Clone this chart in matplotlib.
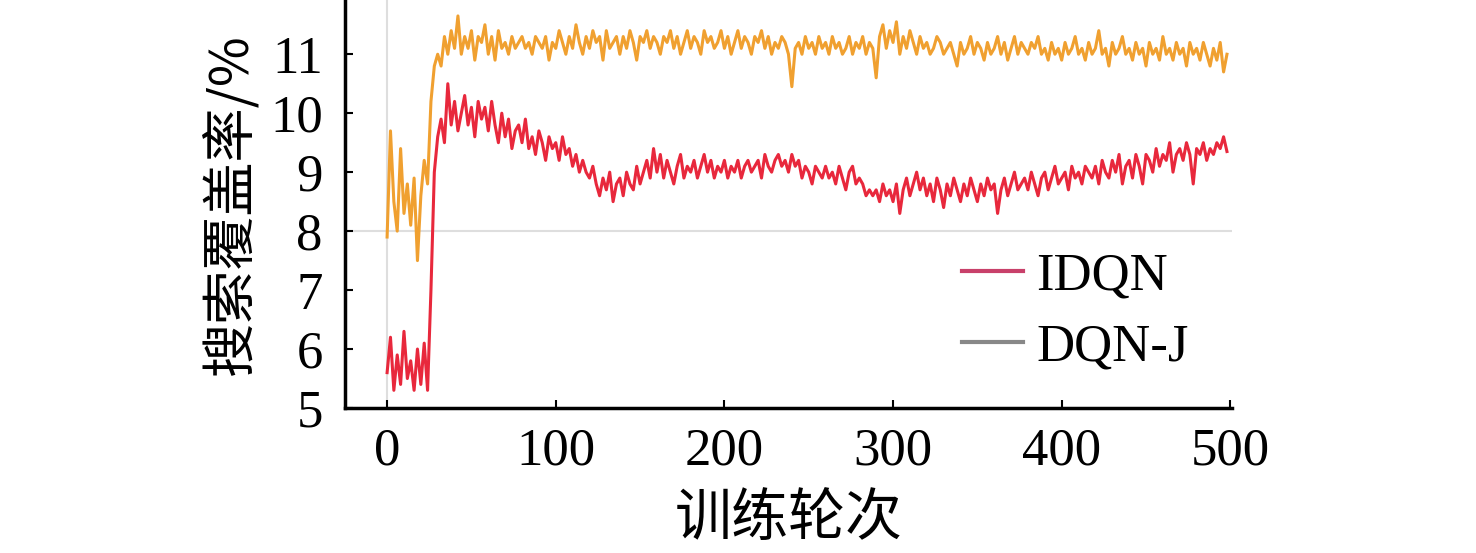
import numpy as np
from matplotlib import pyplot as plt
from matplotlib.lines import Line2D

# training episode (every 2nd episode)
episodes = np.arange(0, 500, 2)

idqn = [
    5.6, 6.2, 5.3, 5.9, 5.4, 6.3, 5.5, 5.8, 5.3, 6.0,
    5.4, 6.1, 5.3, 7.0, 9.0, 9.6, 9.9, 9.5, 10.5, 9.8,
    10.2, 9.7, 10.0, 10.3, 9.8, 10.1, 9.6, 10.2, 9.9, 10.1,
    9.7, 10.2, 9.8, 9.5, 10.0, 9.6, 9.9, 9.4, 9.7, 9.8,
    9.5, 9.9, 9.4, 9.6, 9.3, 9.7, 9.5, 9.2, 9.6, 9.4,
    9.5, 9.2, 9.6, 9.3, 9.4, 9.1, 9.3, 9.0, 9.2, 9.0,
    8.9, 9.1, 8.8, 8.6, 8.9, 8.7, 9.0, 8.5, 8.8, 8.9,
    8.6, 9.0, 8.8, 8.7, 9.1, 8.8, 9.0, 9.2, 8.9, 9.4,
    9.0, 9.3, 8.9, 9.2, 9.0, 8.8, 9.1, 9.3, 8.9, 9.1,
    9.0, 9.2, 8.9, 9.1, 9.3, 9.0, 9.2, 8.9, 9.1, 9.0,
    9.2, 8.9, 9.1, 9.0, 9.2, 8.9, 9.1, 9.2, 9.0, 9.1,
    9.2, 8.9, 9.3, 9.1, 9.0, 9.2, 9.3, 9.1, 9.2, 9.0,
    9.3, 9.1, 9.2, 8.9, 9.1, 9.0, 8.8, 9.1, 9.0, 8.9,
    9.1, 8.9, 9.0, 8.8, 9.1, 8.9, 8.7, 9.0, 9.1, 8.8,
    8.9, 8.8, 8.6, 8.7, 8.6, 8.7, 8.5, 8.8, 8.6, 8.7,
    8.5, 8.8, 8.3, 8.7, 8.9, 8.6, 8.8, 9.0, 8.7, 8.9,
    8.6, 8.8, 8.5, 8.9, 8.7, 8.4, 8.8, 8.6, 8.9, 8.7,
    8.5, 8.8, 8.6, 8.9, 8.7, 8.5, 8.8, 8.6, 8.9, 8.7,
    8.8, 8.3, 8.7, 8.9, 8.6, 8.8, 9.0, 8.7, 8.8, 8.9,
    8.7, 9.0, 8.8, 8.6, 8.9, 9.0, 8.7, 8.9, 9.1, 8.8,
    8.9, 9.0, 8.7, 9.1, 8.9, 9.0, 8.8, 9.1, 9.0, 8.9,
    9.1, 8.8, 9.2, 9.0, 8.9, 9.2, 9.0, 9.3, 8.8, 9.1,
    9.2, 8.9, 9.3, 9.1, 8.8, 9.3, 9.2, 9.0, 9.4, 9.1,
    9.3, 9.2, 9.5, 9.0, 9.3, 9.4, 9.2, 9.5, 9.3, 8.8,
    9.4, 9.3, 9.5, 9.2, 9.4, 9.3, 9.5, 9.4, 9.6, 9.35,
]

dqn_j = [
    7.9, 9.7, 8.5, 8.0, 9.4, 8.3, 8.8, 8.1, 8.9, 7.5,
    8.6, 9.2, 8.8, 10.2, 10.8, 11.0, 10.8, 11.3, 11.0, 11.4,
    11.1, 11.65, 11.0, 11.3, 11.1, 11.4, 10.9, 11.3, 11.2, 11.5,
    11.0, 11.3, 10.9, 11.4, 11.1, 11.2, 11.0, 11.3, 11.1, 11.2,
    11.3, 11.1, 11.2, 11.0, 11.3, 11.2, 11.1, 11.3, 10.9, 11.2,
    11.1, 11.4, 11.2, 11.0, 11.3, 11.1, 11.5, 11.2, 11.0, 11.3,
    11.1, 11.4, 11.2, 11.3, 10.9, 11.4, 11.1, 11.2, 11.3, 11.0,
    11.3, 11.1, 11.4, 11.2, 10.9, 11.3, 11.2, 11.4, 11.1, 11.3,
    11.2, 11.0, 11.3, 11.2, 11.4, 11.1, 11.3, 11.0, 11.2, 11.4,
    11.1, 11.3, 11.2, 11.0, 11.4, 11.2, 11.3, 11.1, 11.2, 11.4,
    11.1, 11.3, 11.0, 11.2, 11.4, 11.1, 11.3, 11.2, 11.0, 11.3,
    11.2, 11.4, 11.1, 11.3, 11.0, 11.2, 11.1, 11.3, 11.2, 11.0,
    10.45, 11.1, 11.2, 11.0, 11.3, 11.1, 11.2, 11.0, 11.3, 11.1,
    11.2, 11.0, 11.3, 11.1, 11.2, 11.0, 11.1, 11.3, 11.0, 11.2,
    11.1, 11.3, 11.0, 11.2, 11.1, 10.6, 11.3, 11.5, 11.1, 11.4,
    11.2, 11.55, 11.0, 11.3, 11.1, 11.4, 11.2, 11.0, 11.3, 11.1,
    11.2, 11.0, 11.1, 11.3, 11.2, 11.0, 11.1, 11.2, 11.0, 10.8,
    11.2, 11.0, 11.1, 11.3, 11.0, 11.2, 11.1, 10.9, 11.2, 11.0,
    11.1, 11.3, 11.0, 11.2, 10.9, 11.1, 11.3, 11.0, 11.2, 11.1,
    11.0, 11.2, 11.1, 11.3, 11.0, 11.1, 10.9, 11.2, 11.0, 11.1,
    10.9, 11.2, 11.0, 11.1, 11.3, 11.0, 11.1, 10.9, 11.2, 11.0,
    11.1, 11.4, 11.0, 11.1, 10.8, 11.2, 11.0, 11.1, 11.3, 11.0,
    11.1, 10.9, 11.2, 11.0, 11.1, 10.8, 11.2, 11.0, 11.1, 10.9,
    11.3, 11.0, 11.1, 10.9, 11.2, 11.0, 11.1, 10.8, 11.2, 11.0,
    11.1, 10.9, 11.2, 11.0, 10.8, 11.1, 10.9, 11.2, 10.7, 11.0,
]

labels = ["IDQN", "DQN-J"]
xticks = [0, 100, 200, 300, 400, 500]
yticks = [5, 6, 7, 8, 9, 10, 11]

serif = "Liberation Serif"
cjk = ["Noto Sans CJK SC", "DejaVu Sans"]

fig = plt.figure(figsize=(14.76, 5.53), dpi=100)
ax = fig.add_axes([0.2337, 0.2622, 0.601, 0.7378])

ax.axhline(8, color="#dedede", lw=1.5, zorder=0)
ax.axvline(0, color="#dedede", lw=1.5, zorder=0)

ax.plot(episodes, dqn_j, color="#f0a030", lw=2.2)
ax.plot(episodes, idqn, color="#e8283c", lw=2.2)

ax.set_xlim(-25, 501)
ax.set_ylim(5, 11.92)
ax.set_xticks(xticks)
ax.set_yticks(yticks)
ax.set_xticklabels([str(t) for t in xticks], fontfamily=serif, fontsize=38)
ax.set_yticklabels([str(t) for t in yticks], fontfamily=serif, fontsize=38)
ax.tick_params(direction="in", length=6, width=1.5, pad=14)
ax.tick_params(axis="y", pad=16)

for s in ["top", "right"]:
    ax.spines[s].set_visible(False)
for s in ["left", "bottom"]:
    ax.spines[s].set_linewidth(2.5)

ax.set_xlabel("训练轮次", family=cjk, fontsize=41, labelpad=10)
ax.set_ylabel("搜索覆盖率/%", family=cjk, fontsize=39, labelpad=8)

handles = [Line2D([], [], color="#c8406a", lw=3),
           Line2D([], [], color="#888888", lw=3)]
ax.legend(handles, labels, loc="upper left", bbox_to_anchor=(0.634, 0.592),
          bbox_transform=fig.transFigure, frameon=False, borderpad=0,
          handlelength=1.15, handletextpad=0.25, labelspacing=0.45,
          prop={"family": serif, "size": 38})

fig.savefig("out.png", dpi=100)
